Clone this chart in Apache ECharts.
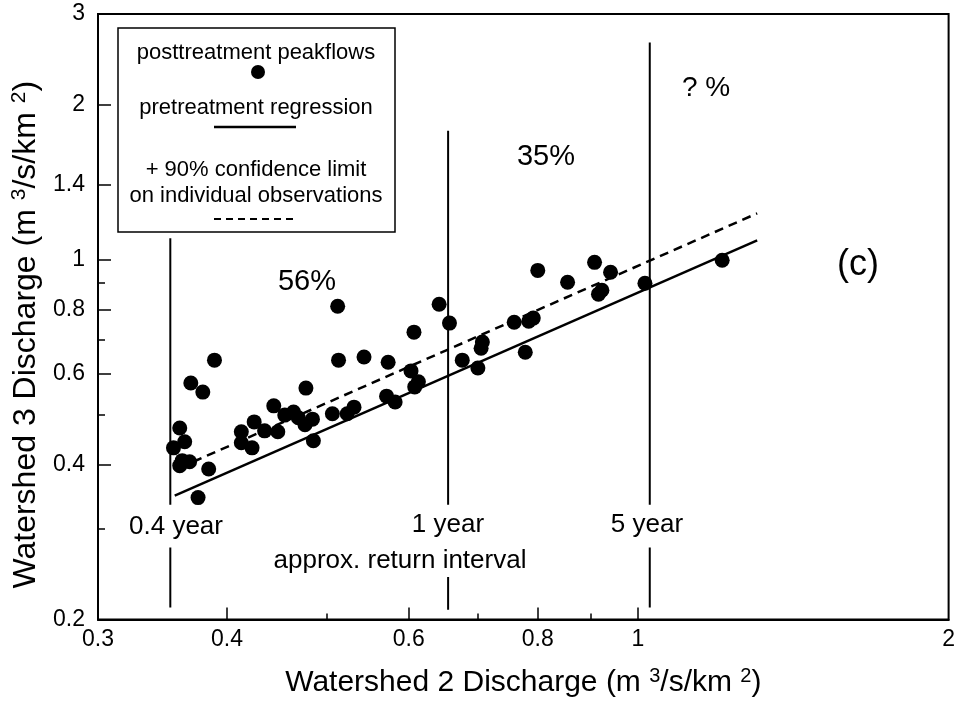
<!DOCTYPE html>
<html><head><meta charset="utf-8">
<script src="https://cdn.jsdelivr.net/npm/echarts@6/dist/echarts.min.js"></script>
<style>html,body{margin:0;padding:0;background:#fff}#c{width:958px;height:703px}</style>
</head><body><div id="c"></div>
<script>
// ---- axis ticks / labels ----
const xLabelValues = [0.3, 0.4, 0.6, 0.8, 1, 2];
const xMajorTicks = [0.4, 0.6, 0.8, 1];
const xMinorTicks = [0.5, 0.7, 0.9];
const yLabelValues = [0.2, 0.4, 0.6, 0.8, 1, 1.4, 2, 3];
const yMajorTicks = [0.4, 0.6, 0.8, 1, 1.4, 2];
const yMinorTicks = [0.3, 0.5, 0.7, 0.9];

// ---- posttreatment peakflows (Watershed 2 vs Watershed 3) ----
const ws2 = [0.355,0.360,0.364,0.360,0.368,0.362,0.369,0.379,0.389,0.384,0.375,
  0.413,0.413,0.423,0.425,0.435,0.444,0.448,0.455,0.464,0.469,0.477,0.476,0.484,0.485,
  0.512,0.513,0.506,0.523,0.531,0.543,0.573,0.571,0.582,0.603,0.607,0.613,0.608,
  0.642,0.657,0.676,0.700,0.707,0.705,0.759,0.778,0.784,0.792,0.800,0.855,0.908,
  0.941,0.916,0.923,1.016,1.207];
const ws3 = [0.431,0.471,0.443,0.398,0.405,0.407,0.576,0.553,0.638,0.392,0.345,
  0.463,0.441,0.431,0.484,0.465,0.520,0.463,0.499,0.506,0.493,0.563,0.478,0.490,0.445,
  0.812,0.638,0.502,0.502,0.517,0.647,0.632,0.543,0.529,0.608,0.723,0.579,0.566,
  0.819,0.753,0.638,0.616,0.692,0.673,0.756,0.661,0.759,0.770,0.953,0.904,0.988,
  0.945,0.857,0.872,0.900,0.997];

// ---- pretreatment regression and +90% confidence limit ----
const regressionX = [0.356, 1.305];
const regressionY = [0.348, 1.090];
const confidenceX = [0.371, 1.305];
const confidenceY = [0.405, 1.230];

// ---- approx. return interval lines ----
const returnIntervalLabels = ['0.4 year', '1 year', '5 year'];
const returnIntervalX = [0.3525, 0.655, 1.027];
const upperTop = [1.10, 1.78, 2.64];
const upperBottom = [0.334, 0.334, 0.334];
const lowerTop = [0.276, 0.242, 0.276];
const lowerBottom = [0.211, 0.209, 0.211];

const FONT = 'Liberation Sans, Arial, Helvetica, sans-serif';

const series = [];
returnIntervalX.forEach((x, i) => {
  [[upperTop[i], upperBottom[i]], [lowerTop[i], lowerBottom[i]]].forEach(seg => {
    series.push({
      type: 'line', xAxisIndex: 0, yAxisIndex: 0, symbol: 'none', silent: true,
      lineStyle: { color: '#000', width: 2 },
      data: [[x, seg[0]], [x, seg[1]]], z: 2
    });
  });
});
series.push({
  name: 'pretreatment regression', type: 'line', symbol: 'none', xAxisIndex: 0, yAxisIndex: 0,
  lineStyle: { color: '#000', width: 2.5 },
  data: regressionX.map((x, i) => [x, regressionY[i]]), z: 3
});
series.push({
  name: '+ 90% confidence limit', type: 'line', symbol: 'none', xAxisIndex: 0, yAxisIndex: 0,
  lineStyle: { color: '#000', width: 2.5, type: [9, 6] },
  data: confidenceX.map((x, i) => [x, confidenceY[i]]), z: 3
});
series.push({
  name: 'posttreatment peakflows', type: 'scatter', xAxisIndex: 0, yAxisIndex: 0,
  symbol: 'circle', symbolSize: 15, itemStyle: { color: '#000', opacity: 1 },
  data: ws2.map((x, i) => [x, ws3[i]]), z: 5
});

const txt = (x, y, s, size, extra) => Object.assign({
  type: 'text', x: x, y: y, z: 10,
  style: { text: s, font: size + 'px ' + FONT, fill: '#000', align: 'center', verticalAlign: 'middle' }
}, extra || {});

const chart = echarts.init(document.getElementById('c'), null, { renderer: 'canvas' });
chart.setOption({
  animation: false,
  backgroundColor: '#fff',
  grid: { left: 98, right: 8, top: 14, bottom: 82, show: true, borderColor: '#000', borderWidth: 2 },
  xAxis: [
    {
      type: 'log', logBase: 10, min: 0.3, max: 2, position: 'bottom',
      name: 'Watershed 2 Discharge (m {sup|3}/s/km {sup|2})',
      nameLocation: 'middle', nameGap: 47,
      nameTextStyle: { fontFamily: FONT, fontSize: 30, color: '#000',
        rich: { sup: { fontFamily: FONT, fontSize: 20, color: '#000', verticalAlign: 'top', padding: [0, 0, 13, 0] } } },
      axisLine: { show: true, lineStyle: { color: '#000', width: 2 } },
      axisTick: { show: true, inside: true, length: 12, customValues: xMajorTicks, lineStyle: { color: '#000', width: 1.5 } },
      axisLabel: { show: true, customValues: xLabelValues, margin: 9, fontFamily: FONT, fontSize: 23, color: '#000' },
      splitLine: { show: false }, minorTick: { show: false }, minorSplitLine: { show: false }
    },
    {
      type: 'log', logBase: 10, min: 0.3, max: 2, position: 'bottom',
      axisLine: { show: false },
      axisTick: { show: true, inside: true, length: 6, customValues: xMinorTicks, lineStyle: { color: '#000', width: 1.5 } },
      axisLabel: { show: false }, splitLine: { show: false }
    }
  ],
  yAxis: [
    {
      type: 'log', logBase: 10, min: 0.2, max: 3, position: 'left',
      name: 'Watershed 3 Discharge (m {sup|3}/s/km {sup|2})',
      nameLocation: 'middle', nameGap: 50,
      nameTextStyle: { fontFamily: FONT, fontSize: 32, color: '#000', padding: [0, 36, 0, 0],
        rich: { sup: { fontFamily: FONT, fontSize: 21, color: '#000', verticalAlign: 'top', padding: [0, 0, 14, 0] } } },
      axisLine: { show: true, lineStyle: { color: '#000', width: 2 } },
      axisTick: { show: true, inside: true, length: 13, customValues: yMajorTicks, lineStyle: { color: '#000', width: 1.5 } },
      axisLabel: { show: true, customValues: yLabelValues, margin: 13, fontFamily: FONT, fontSize: 23, color: '#000' },
      splitLine: { show: false }, minorTick: { show: false }, minorSplitLine: { show: false }
    },
    {
      type: 'log', logBase: 10, min: 0.2, max: 3, position: 'left',
      axisLine: { show: false },
      axisTick: { show: true, inside: true, length: 7, customValues: yMinorTicks, lineStyle: { color: '#000', width: 1.5 } },
      axisLabel: { show: false }, splitLine: { show: false }
    }
  ],
  series: series,
  graphic: [
    // legend box
    { type: 'rect', z: 10, shape: { x: 118, y: 28, width: 277, height: 204 },
      style: { fill: '#fff', stroke: '#000', lineWidth: 1.5 } },
    txt(256, 53, 'posttreatment peakflows', 22),
    { type: 'circle', z: 11, shape: { cx: 258, cy: 72, r: 7 }, style: { fill: '#000' } },
    txt(256, 108, 'pretreatment regression', 22),
    { type: 'line', z: 11, shape: { x1: 214, y1: 127, x2: 296, y2: 127 }, style: { stroke: '#000', lineWidth: 2.5 } },
    txt(256, 170, '+ 90% confidence limit', 22),
    txt(256, 196, 'on individual observations', 22),
    { type: 'line', z: 11, shape: { x1: 214, y1: 219, x2: 296, y2: 219 }, style: { stroke: '#000', lineWidth: 2, lineDash: [7, 5] } },
    // annotations
    txt(176, 527, returnIntervalLabels[0], 26),
    txt(448, 525, returnIntervalLabels[1], 26),
    txt(647, 525, returnIntervalLabels[2], 26),
    txt(400, 561, 'approx. return interval', 26),
    txt(307, 282, '56%', 29),
    txt(546, 157, '35%', 29),
    txt(706, 88, '? %', 28),
    txt(858, 265, '(c)', 36)
  ]
});
</script>
</body></html>
